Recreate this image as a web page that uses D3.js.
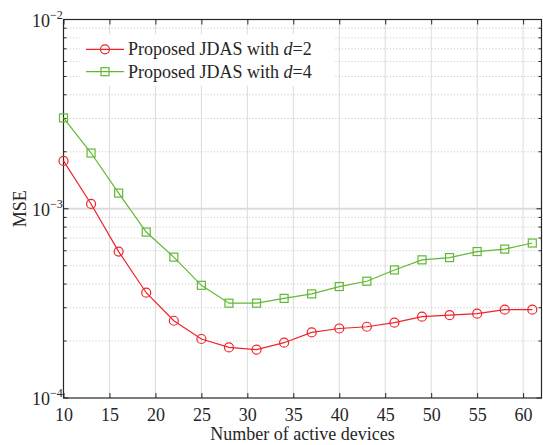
<!DOCTYPE html>
<html>
<head>
<meta charset="utf-8">
<script src="https://cdn.jsdelivr.net/npm/d3@7/dist/d3.min.js"></script>
<style>
  body { margin: 0; background: #fff; }
  svg { display: block; font-family: "Liberation Serif", "Times New Roman", serif; }
</style>
</head>
<body>
<script>
// data
var devices = [10, 13, 16, 19, 22, 25, 28, 31, 34, 37, 40, 43, 46, 49, 52, 55, 58, 61];
var mseD2 = [1.79e-3, 1.06e-3, 5.94e-4, 3.6e-4, 2.56e-4, 2.05e-4, 1.85e-4, 1.80e-4, 1.96e-4, 2.22e-4,
             2.33e-4, 2.38e-4, 2.50e-4, 2.69e-4, 2.74e-4, 2.79e-4, 2.93e-4, 2.93e-4];
var mseD4 = [3.02e-3, 1.97e-3, 1.21e-3, 7.53e-4, 5.55e-4, 3.94e-4, 3.17e-4, 3.17e-4, 3.36e-4, 3.55e-4,
             3.88e-4, 4.14e-4, 4.75e-4, 5.37e-4, 5.52e-4, 5.94e-4, 6.12e-4, 6.59e-4];
var xTicks = [10, 15, 20, 25, 30, 35, 40, 45, 50, 55, 60];
var yDecades = [1e-4, 1e-3, 1e-2];
var yExps = ["\u22124", "\u22123", "\u22122"];
var legendLabels = ["=2", "=4"];

var width = 543, height = 445;
// plot box (don't use "top" - clashes with window.top)
var pLeft = 63.5, pRight = 541.5, pTop = 19.5, pBottom = 398;

var svg = d3.select("body").append("svg")
    .attr("width", width)
    .attr("height", height);

var x = d3.scaleLinear().domain([10, 62]).range([pLeft, pRight]);
var y = d3.scaleLog().domain([1e-4, 1e-2]).range([pBottom, pTop]);

// minor tick values 2..9 per decade
var minors = [];
[1e-4, 1e-3].forEach(function(d){
    for (var k = 2; k <= 9; k++) minors.push(d * k);
});

var axisColor = "#262626";

// grid
var grid = svg.append("g");
grid.selectAll(".vg").data(xTicks).enter().append("line")
    .attr("x1", function(d){ return x(d); }).attr("x2", function(d){ return x(d); })
    .attr("y1", pTop).attr("y2", pBottom)
    .attr("stroke", "#dcdcdc").attr("stroke-width", 1);
grid.selectAll(".hg").data(minors).enter().append("line")
    .attr("x1", pLeft).attr("x2", pRight)
    .attr("y1", function(d){ return y(d); }).attr("y2", function(d){ return y(d); })
    .attr("stroke", "#c4c4c4").attr("stroke-width", 1)
    .attr("stroke-dasharray", "1,2.2");
grid.selectAll(".hm").data([1e-3]).enter().append("line")
    .attr("x1", pLeft).attr("x2", pRight)
    .attr("y1", function(d){ return y(d); }).attr("y2", function(d){ return y(d); })
    .attr("stroke", "#dcdcdc").attr("stroke-width", 2);

// axes (ticks inward)
var xAxis = d3.axisBottom(x).tickValues(xTicks).tickSize(-5).tickPadding(10);
var gx = svg.append("g").attr("transform", "translate(0," + pBottom + ")").call(xAxis);
gx.select(".domain").remove();
gx.selectAll(".tick line").attr("stroke", axisColor);
gx.selectAll(".tick text").attr("fill", axisColor)
    .style("font-size", "18px").style("font-family", "Liberation Serif, serif");

var gxTop = svg.append("g").attr("transform", "translate(0," + pTop + ")")
    .call(d3.axisTop(x).tickValues(xTicks).tickSize(-5).tickFormat(""));
gxTop.select(".domain").remove();
gxTop.selectAll(".tick line").attr("stroke", axisColor);

function yTicks(g, sign){
    g.selectAll(".mn").data(minors).enter().append("line")
        .attr("x1", 0).attr("x2", sign * 3)
        .attr("y1", function(d){ return y(d); }).attr("y2", function(d){ return y(d); })
        .attr("stroke", axisColor);
    g.selectAll(".mj").data(yDecades).enter().append("line")
        .attr("x1", 0).attr("x2", sign * 5)
        .attr("y1", function(d){ return y(d); }).attr("y2", function(d){ return y(d); })
        .attr("stroke", axisColor);
}
yTicks(svg.append("g").attr("transform", "translate(" + pLeft + ",0)"), 1);
yTicks(svg.append("g").attr("transform", "translate(" + pRight + ",0)"), -1);

// y labels 10^n
var yl = svg.append("g").selectAll("text").data(yDecades).enter().append("text")
    .attr("x", 32)
    .attr("y", function(d){ return y(d) + 7; })
    .attr("fill", axisColor)
    .style("font-size", "18px");
yl.append("tspan").text("10");
yl.append("tspan").attr("dy", -8).style("font-size", "12px")
    .text(function(d, i){ return yExps[i]; });

// frame
svg.append("rect")
    .attr("x", pLeft).attr("y", pTop)
    .attr("width", pRight - pLeft).attr("height", pBottom - pTop)
    .attr("fill", "none").attr("stroke", axisColor).attr("stroke-width", 1.2);

// series
var series = [
    {values: mseD2, color: "#f0232a", marker: "circle"},
    {values: mseD4, color: "#62b834", marker: "square"}
];
var line = d3.line()
    .x(function(d){ return x(d[0]); })
    .y(function(d){ return y(d[1]); });

function drawMarker(g, cx, cy, s){
    if (s.marker === "circle") {
        g.append("circle").attr("cx", cx).attr("cy", cy).attr("r", 4.5)
            .attr("fill", "none").attr("stroke", s.color).attr("stroke-width", 1.2);
    } else {
        g.append("rect").attr("x", cx - 4).attr("y", cy - 4).attr("width", 8).attr("height", 8)
            .attr("fill", "none").attr("stroke", s.color).attr("stroke-width", 1.2);
    }
}

series.forEach(function(s){
    var pts = devices.map(function(d, i){ return [d, s.values[i]]; });
    svg.append("path").datum(pts)
        .attr("d", line)
        .attr("fill", "none").attr("stroke", s.color).attr("stroke-width", 1.2);
    var g = svg.append("g");
    pts.forEach(function(p){ drawMarker(g, x(p[0]), y(p[1]), s); });
});

// legend
svg.append("rect").attr("x", 80).attr("y", 34).attr("width", 255).attr("height", 52).attr("fill", "#fff");
series.forEach(function(s, i){
    var ly = 49.3 + i * 22.4;
    var g = svg.append("g");
    g.append("line").attr("x1", 86).attr("x2", 124).attr("y1", ly).attr("y2", ly)
        .attr("stroke", s.color).attr("stroke-width", 1.2);
    drawMarker(g, 105, ly, s);
    var t = g.append("text").attr("x", 128).attr("y", ly + 6)
        .attr("fill", axisColor).style("font-size", "18px");
    t.append("tspan").text("Proposed JDAS with ");
    t.append("tspan").style("font-style", "italic").text("d");
    t.append("tspan").text(legendLabels[i]);
});

// axis titles
svg.append("text")
    .attr("x", (pLeft + pRight) / 2).attr("y", 440)
    .attr("text-anchor", "middle").attr("fill", axisColor)
    .style("font-size", "18px")
    .text("Number of active devices");
svg.append("text")
    .attr("transform", "translate(26," + ((pTop + pBottom) / 2) + ") rotate(-90)")
    .attr("text-anchor", "middle").attr("fill", axisColor)
    .style("font-size", "18px")
    .text("MSE");
</script>
</body>
</html>
